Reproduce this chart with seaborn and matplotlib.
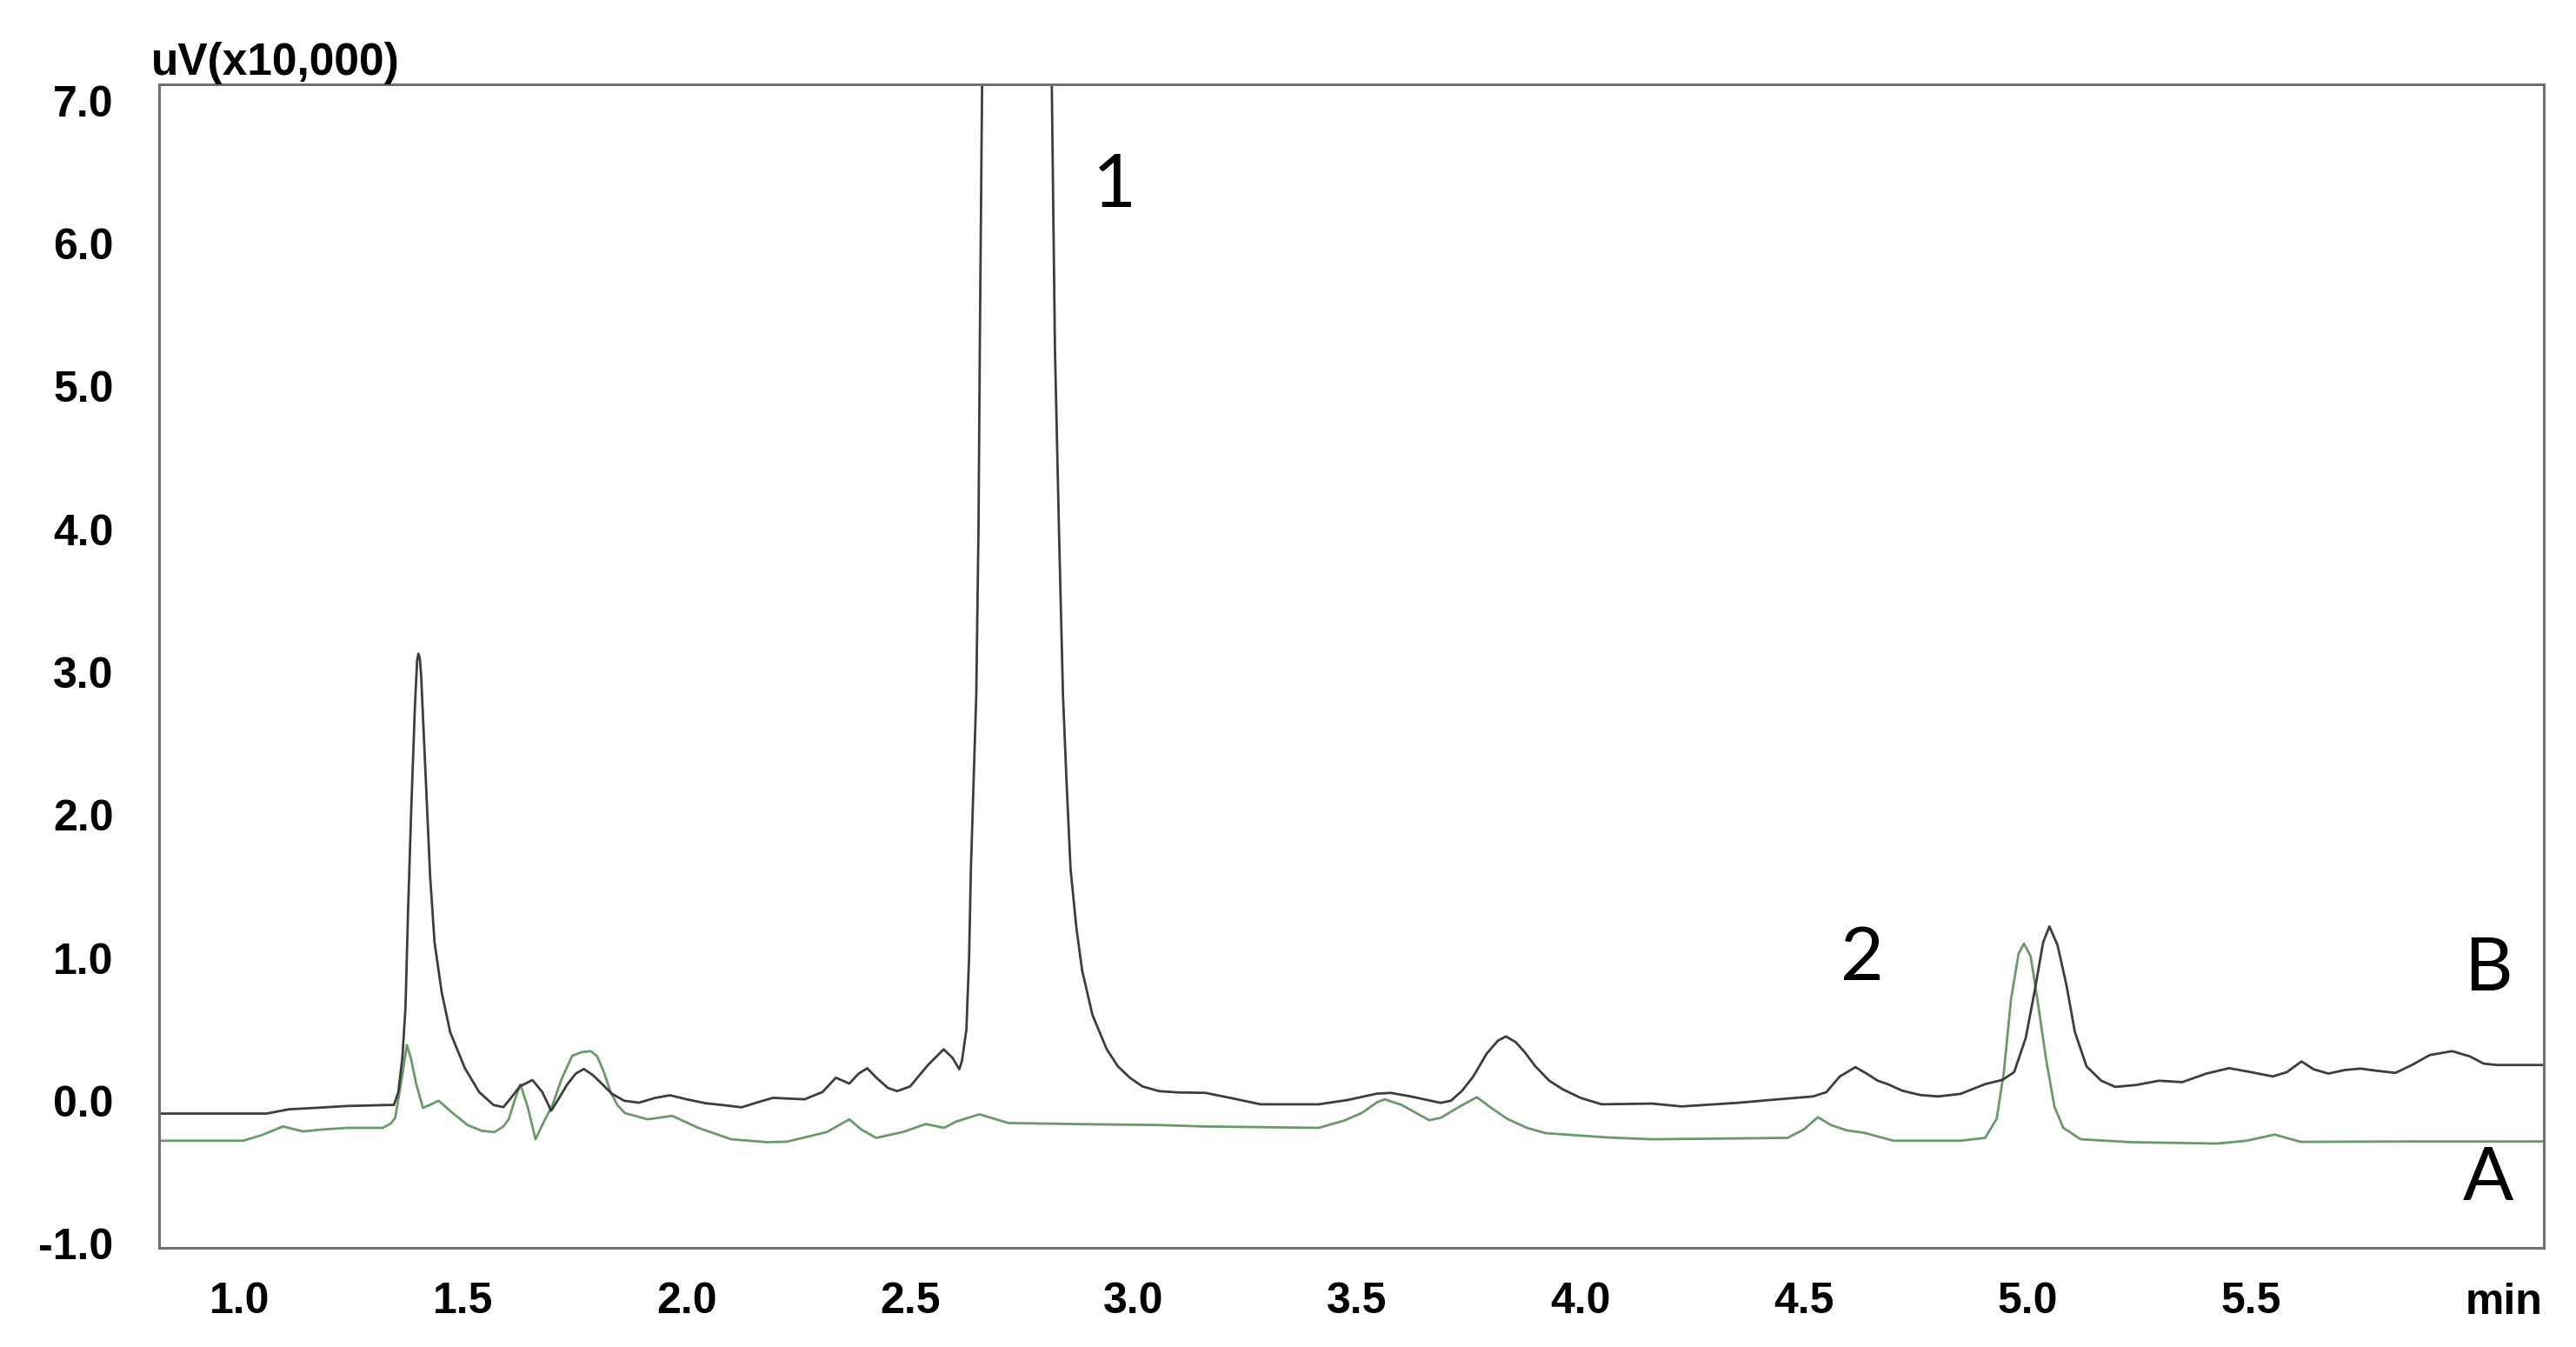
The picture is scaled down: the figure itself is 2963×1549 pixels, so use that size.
#!/usr/bin/env python3
"""
Chromatogram overlay: sample trace B (black) over blank trace A (green).

Values were read off the reference picture (retention time in min,
detector signal in uV x 10,000).
"""

import matplotlib
matplotlib.use("Agg")

import pandas as pd
import matplotlib.pyplot as plt
from matplotlib.ticker import MultipleLocator, FormatStrFormatter
import seaborn as sns

# Trace B (black): retention time (min) and signal (uV x 10,000)
trace_b_time = [
    0.82, 1.06, 1.085, 1.11, 1.17, 1.24, 1.33, 1.345, 1.355, 1.364, 1.371,
    1.377, 1.384, 1.392, 1.397, 1.400, 1.403, 1.406, 1.416, 1.426, 1.436,
    1.452, 1.471, 1.504, 1.536, 1.568, 1.59, 1.602, 1.627, 1.655, 1.677,
    1.697, 1.715, 1.732, 1.752, 1.770, 1.79, 1.81, 1.832, 1.86, 1.893,
    1.93, 1.963, 2.0, 2.043, 2.08, 2.123, 2.16, 2.193, 2.264, 2.304,
    2.334, 2.364, 2.385, 2.404, 2.425, 2.45, 2.471, 2.5, 2.54, 2.575,
    2.595, 2.61, 2.616, 2.626, 2.632, 2.636, 2.642, 2.648, 2.653, 2.656,
    2.661, 2.664, 2.74, 2.815, 2.817, 2.824, 2.833, 2.842, 2.85, 2.859,
    2.872, 2.885, 2.908, 2.94, 2.965, 2.992, 3.02, 3.057, 3.1, 3.161,
    3.219, 3.284, 3.414, 3.479, 3.543, 3.575, 3.62, 3.687, 3.71, 3.735,
    3.76, 3.79, 3.815, 3.833, 3.855, 3.875, 3.899, 3.93, 3.96, 4.0,
    4.047, 4.16, 4.226, 4.35, 4.424, 4.52, 4.55, 4.58, 4.615, 4.64,
    4.665, 4.687, 4.72, 4.76, 4.80, 4.85, 4.905, 4.944, 4.97, 4.996,
    5.016, 5.035, 5.049, 5.067, 5.087, 5.106, 5.132, 5.165, 5.196, 5.243,
    5.294, 5.346, 5.40, 5.451, 5.50, 5.549, 5.58, 5.613, 5.64, 5.673,
    5.71, 5.745, 5.78, 5.823, 5.86, 5.9, 5.95, 5.99, 6.02, 6.05, 6.155,
]
trace_b_signal = [
    -0.09, -0.09, -0.075, -0.06, -0.05, -0.037, -0.03, -0.03, 0.06, 0.30, 0.65,
    1.35, 2.05, 2.75, 3.08, 3.13, 3.10, 2.98, 2.28, 1.58, 1.11,
    0.76, 0.48, 0.227, 0.06, -0.03, -0.045, 0.0, 0.10, 0.145, 0.061,
    -0.07, 0.02, 0.11, 0.19, 0.222, 0.18, 0.12, 0.051, 0.0, -0.014,
    0.02, 0.038, 0.01, -0.018, -0.03, -0.046, -0.01, 0.02, 0.01, 0.061,
    0.161, 0.12, 0.19, 0.227, 0.16, 0.09, 0.067, 0.1, 0.25, 0.36,
    0.3, 0.22, 0.28, 0.5, 1.01, 1.62, 2.23, 2.84, 4.0, 5.3,
    7.1, 8.0, 9.0, 8.0, 7.1, 5.27, 4.0, 2.84, 2.23, 1.62,
    1.21, 0.91, 0.6, 0.36, 0.24, 0.16, 0.1, 0.067, 0.058, 0.055,
    0.018, -0.025, -0.025, 0.005, 0.049, 0.055, 0.03, -0.015, 0.0, 0.07,
    0.17, 0.33, 0.42, 0.45, 0.41, 0.34, 0.24, 0.14, 0.08, 0.02,
    -0.025, -0.02, -0.04, -0.015, 0.005, 0.03, 0.06, 0.17, 0.235, 0.19,
    0.14, 0.116, 0.07, 0.04, 0.03, 0.048, 0.116, 0.146, 0.2, 0.44,
    0.77, 1.11, 1.22, 1.09, 0.81, 0.48, 0.24, 0.14, 0.097, 0.11,
    0.14, 0.13, 0.19, 0.228, 0.2, 0.17, 0.2, 0.275, 0.22, 0.19,
    0.215, 0.225, 0.21, 0.195, 0.25, 0.32, 0.347, 0.31, 0.26, 0.25, 0.25,
]

# Trace A (green): retention time (min) and signal (uV x 10,000)
trace_a_time = [
    0.82, 1.008, 1.05, 1.097, 1.142, 1.19, 1.243, 1.32, 1.338, 1.348, 1.364,
    1.374, 1.383, 1.394, 1.41, 1.425, 1.445, 1.478, 1.51, 1.541, 1.57,
    1.59, 1.602, 1.615, 1.628, 1.645, 1.662, 1.68, 1.70, 1.72, 1.744,
    1.765, 1.786, 1.8, 1.815, 1.83, 1.845, 1.862, 1.913, 1.968, 2.026,
    2.10, 2.18, 2.224, 2.314, 2.364, 2.39, 2.424, 2.484, 2.535, 2.576,
    2.603, 2.655, 2.72, 2.905, 3.057, 3.154, 3.414, 3.47, 3.511, 3.545,
    3.562, 3.6, 3.661, 3.687, 3.73, 3.768, 3.8, 3.836, 3.88, 3.922,
    4.06, 4.16, 4.463, 4.5, 4.531, 4.56, 4.595, 4.635, 4.70, 4.85,
    4.905, 4.931, 4.947, 4.963, 4.98, 4.992, 5.007, 5.022, 5.041, 5.06,
    5.08, 5.119, 5.23, 5.424, 5.49, 5.553, 5.611, 5.87, 6.155,
]
trace_a_signal = [
    -0.28, -0.28, -0.24, -0.18, -0.215, -0.2, -0.19, -0.19, -0.16, -0.12, 0.18,
    0.39, 0.30, 0.13, -0.05, -0.03, 0.0, -0.09, -0.17, -0.21, -0.22,
    -0.18, -0.13, 0.0, 0.115, -0.05, -0.27, -0.15, -0.03, 0.15, 0.315,
    0.34, 0.347, 0.31, 0.2, 0.06, -0.03, -0.087, -0.13, -0.106, -0.19,
    -0.27, -0.29, -0.287, -0.219, -0.13, -0.2, -0.26, -0.219, -0.163, -0.19,
    -0.146, -0.095, -0.156, -0.165, -0.17, -0.18, -0.19, -0.14, -0.085, -0.01,
    0.01, -0.03, -0.136, -0.12, -0.04, 0.025, -0.05, -0.127, -0.19, -0.227,
    -0.257, -0.27, -0.26, -0.2, -0.115, -0.17, -0.207, -0.225, -0.28, -0.28,
    -0.26, -0.126, 0.2, 0.71, 1.03, 1.10, 1.01, 0.71, 0.3, -0.04,
    -0.19, -0.27, -0.29, -0.3, -0.28, -0.237, -0.288, -0.285, -0.285,
]

# Peak and trace annotations
peak_labels = ["1", "2", "B", "A"]
peak_label_x = [2.957, 4.63, 6.03, 6.03]
peak_label_y = [6.40, 0.99, 0.92, -0.55]

y_tick_values = [-1.0, 0.0, 1.0, 2.0, 3.0, 4.0, 5.0, 6.0, 7.0]
x_tick_values = [1.0, 1.5, 2.0, 2.5, 3.0, 3.5, 4.0, 4.5, 5.0, 5.5]

COLOR_B = "#3d3d3d"
COLOR_A = "#6a9a6a"
SPINE_COLOR = "#707070"


def build_frames():
    """Put each trace into its own DataFrame."""
    df_b = pd.DataFrame({"time": trace_b_time, "signal": trace_b_signal})
    df_a = pd.DataFrame({"time": trace_a_time, "signal": trace_a_signal})
    return df_a, df_b


def draw(df_a, df_b):
    """Draw the overlaid chromatograms and save out.png."""
    sns.set_style("white")
    plt.rcParams["font.family"] = ["Liberation Sans", "DejaVu Sans"]

    fig = plt.figure(figsize=(29.63, 15.49), dpi=100)
    ax = fig.add_axes([0.0618, 0.0736, 0.9257, 0.8638])

    sns.lineplot(data=df_a, x="time", y="signal", ax=ax, color=COLOR_A,
                 linewidth=2.0, sort=False, estimator=None)
    sns.lineplot(data=df_b, x="time", y="signal", ax=ax, color=COLOR_B,
                 linewidth=2.0, sort=False, estimator=None)

    ax.set_xlim(0.82, 6.155)
    ax.set_ylim(-1.03, 7.115)
    ax.set_xlabel("")
    ax.set_ylabel("")

    # Ticks
    ax.set_yticks(y_tick_values)
    ax.yaxis.set_major_formatter(FormatStrFormatter("%.1f"))
    ax.yaxis.set_minor_locator(MultipleLocator(0.2))
    ax.set_xticks(x_tick_values + [6.0])
    ax.set_xticklabels([f"{v:.1f}" for v in x_tick_values] + [""])
    ax.xaxis.set_minor_locator(MultipleLocator(0.1))

    ax.tick_params(axis="both", which="both", direction="out",
                   color=SPINE_COLOR, width=1.5)
    ax.tick_params(axis="y", which="major", length=6.5, pad=31.5)
    ax.tick_params(axis="y", which="minor", length=5.5)
    ax.tick_params(axis="x", which="major", length=3, pad=25)
    ax.tick_params(axis="x", which="minor", length=3)
    # the 6.0 tick is drawn longer than the rest
    ax.xaxis.get_major_ticks()[-1].tick1line.set_markersize(10)

    for label in ax.get_xticklabels() + ax.get_yticklabels():
        label.set_fontweight("bold")
        label.set_fontsize(36)
        label.set_color("black")

    for spine in ax.spines.values():
        spine.set_color(SPINE_COLOR)
        spine.set_linewidth(2.2)
        spine.set_visible(True)

    # Unit labels
    ax.text(6.066, -1.275, "min", ha="center", va="top", fontsize=36,
            fontweight="bold", color="black")
    fig.text(0.0587, 0.9535, "uV(x10,000)", ha="left", va="center",
             fontsize=37, fontweight="bold", color="black")

    # Peak / trace labels
    for text, x, y in zip(peak_labels, peak_label_x, peak_label_y):
        ax.text(x, y, text, ha="center", va="center", fontsize=62,
                family=["Lato", "DejaVu Sans"], color="black")

    fig.savefig("out.png", dpi=100, facecolor="white")
    plt.close(fig)


def main():
    df_a, df_b = build_frames()
    draw(df_a, df_b)


if __name__ == "__main__":
    main()
